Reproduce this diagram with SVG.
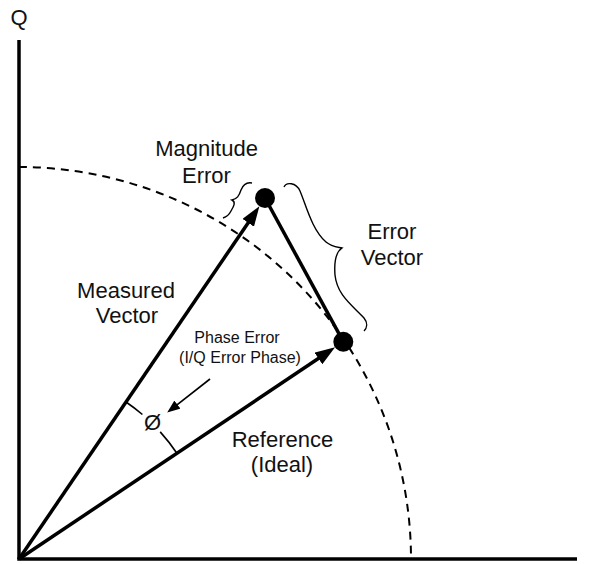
<svg xmlns="http://www.w3.org/2000/svg" width="592" height="564" viewBox="0 0 592 564">
  <style>
    .lbl { font-family: "Liberation Sans", Arial, sans-serif; font-size: 22px; fill: #111; text-anchor: middle; }
    .sm { font-family: "Liberation Sans", Arial, sans-serif; font-size: 16px; fill: #111; text-anchor: middle; }
    .axis { stroke: #000; stroke-width: 3.5; fill: none; }
    .vec { stroke: #000; stroke-width: 3.5; fill: none; }
    .thin { stroke: #000; stroke-width: 1.6; fill: none; }
    .brace { stroke: #000; stroke-width: 1.4; fill: none; }
    .dash { stroke: #000; stroke-width: 2; fill: none; stroke-dasharray: 8 6; }
    .dot { fill: #000; }
  </style>
  <defs>
    <marker id="bigArrow" markerUnits="userSpaceOnUse" viewBox="0 0 20 14" markerWidth="20" markerHeight="14" refX="12" refY="7" orient="auto">
      <path d="M0,0 L20,7 L0,14 Z" fill="#000"/>
    </marker>
    <marker id="smallArrow" markerUnits="userSpaceOnUse" viewBox="0 0 13 10" markerWidth="13" markerHeight="10" refX="7" refY="5" orient="auto">
      <path d="M0,0 L13,5 L0,10 Z" fill="#000"/>
    </marker>
  </defs>

  <g id="axes">
    <line class="axis" x1="19" y1="40" x2="19" y2="559"/>
    <line class="axis" x1="17.25" y1="559" x2="577" y2="559"/>
    <text class="lbl" x="19" y="25" font-size="21">Q</text>
  </g>

  <g id="ideal-circle">
    <path class="dash" d="M19,167 A392,392 0 0 1 411,559"/>
  </g>

  <g id="connectors">
    <line id="measured-vector" class="vec" x1="19" y1="559" x2="254.9" y2="212.9" marker-end="url(#bigArrow)"/>
    <line id="reference-vector" class="vec" x1="19" y1="559" x2="328.4" y2="351.8" marker-end="url(#bigArrow)"/>
    <line id="error-vector" class="vec" x1="265" y1="198" x2="343.3" y2="341.7"/>
    <line id="phase-pointer" class="thin" x1="210" y1="379" x2="171.9" y2="408.9" marker-end="url(#smallArrow)"/>
  </g>

  <g id="measured-point">
    <circle class="dot" cx="265" cy="198" r="10"/>
  </g>
  <g id="reference-point">
    <circle class="dot" cx="343.3" cy="341.7" r="10"/>
  </g>

  <g id="phase-angle">
    <path class="thin" d="M126,402 A190,190 0 0 1 142.4,414.5"/>
    <path class="thin" d="M160.2,431.9 A190,190 0 0 1 176.9,453.3"/>
    <text class="lbl" x="152.5" y="430" font-size="20">Ø</text>
  </g>

  <g id="magnitude-error">
    <path class="brace" d="M252,183 C247,182 243,185 241,190 C239,196 237,199 232,200 C236,202 234,206 231,211 C229,215 226,217 223,218"/>
    <text class="lbl" x="206.5" y="156">Magnitude</text>
    <text class="lbl" x="206.5" y="183">Error</text>
  </g>

  <g id="error-vector-label">
    <path class="brace" d="M284,187 C286,182 296,182 300,191 C306,205 312,230 326,242 C332,247 338,247 342,248 C336,252 334,262 335,275 C337,295 352,305 364,318 C368,323 367,328 364,331"/>
    <text class="lbl" x="392" y="239">Error</text>
    <text class="lbl" x="392" y="265">Vector</text>
  </g>

  <g id="measured-label">
    <text class="lbl" x="126" y="298">Measured</text>
    <text class="lbl" x="127" y="323">Vector</text>
  </g>

  <g id="phase-error-label">
    <text class="sm" x="237" y="343">Phase Error</text>
    <text class="sm" x="240" y="363">(I/Q Error Phase)</text>
  </g>

  <g id="reference-label">
    <text class="lbl" x="282.5" y="447">Reference</text>
    <text class="lbl" x="282" y="472">(Ideal)</text>
  </g>
</svg>
